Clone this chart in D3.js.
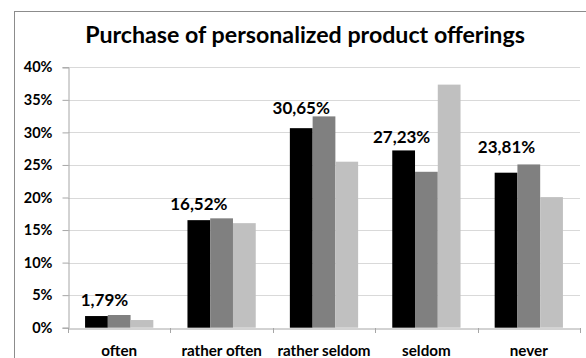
<!DOCTYPE html>
<html><head><meta charset="utf-8">
<script src="https://cdn.jsdelivr.net/npm/d3@7"></script>
<style>
html,body{margin:0;padding:0;background:#fff;}
svg{display:block;}
text{font-family:Lato,"Open Sans",sans-serif;font-weight:bold;fill:#000;}
</style></head>
<body>
<svg id="chart" width="586" height="358"></svg>
<script>
const title = "Purchase of personalized product offerings";
const categories = ["often", "rather often", "rather seldom", "seldom", "never"];
const seriesNames = ["A", "B", "C"];
const seriesA = [1.79, 16.52, 30.65, 27.23, 23.81];
const seriesB = [1.95, 16.80, 32.46, 23.95, 25.08];
const seriesC = [1.18, 16.06, 25.50, 37.34, 20.06];
const labelText = ["1,79%", "16,52%", "30,65%", "27,23%", "23,81%"];
const yTicks = [0, 5, 10, 15, 20, 25, 30, 35, 40];

(function () {
// layout (not data)
const labelLift = [10, 10, 14, 7.4, 20];
const labelShift = [8, 0, 0, -2, 0.5];
const colors = ["#000000", "#808080", "#c0c0c0"];

const svg = d3.select("#chart");
const pLeft = 68, pRight = 580, pTop = 67.3, pBottom = 327.7;

svg.append("rect").attr("x", 14.5).attr("y", 11.5).attr("width", 620).attr("height", 400)
  .attr("fill", "#fff").attr("stroke", "#8c8c8c").attr("stroke-width", 1);

svg.append("text").attr("x", 305).attr("y", 43).attr("text-anchor", "middle")
  .style("font-size", "23.2px").text(title);

const x0 = d3.scaleBand().domain(categories).range([pLeft, pRight]).paddingInner(0).paddingOuter(0);
const bw = x0.bandwidth();
const x1 = d3.scaleBand().domain(seriesNames).range([0, bw]).paddingInner(0).paddingOuter(0.75);
const y = d3.scaleLinear().domain([0, 40]).range([pBottom, pTop]);

// gridlines
svg.append("g").selectAll("line").data(yTicks.slice(1)).join("line")
  .attr("x1", pLeft).attr("x2", pRight)
  .attr("y1", d => Math.round(y(d)) + 0.5).attr("y2", d => Math.round(y(d)) + 0.5)
  .attr("stroke", "#d9d9d9").attr("stroke-width", 1);

// y axis
const yAxis = svg.append("g").attr("transform", `translate(${pLeft + 0.5},0)`)
  .call(d3.axisLeft(y).tickValues(yTicks).tickFormat(d => d + "%").tickSize(6).tickPadding(10));
yAxis.select(".domain").attr("stroke", "#a6a6a6");
yAxis.selectAll(".tick line").attr("stroke", "#a6a6a6");
yAxis.selectAll(".tick text").style("font-size", "14.5px").style("font-family", "Lato,sans-serif").attr("fill", "#1a1a1a");

const series = [seriesA, seriesB, seriesC];
const rows = categories.map((c, i) => ({cat: c, i, vals: series.map((s, k) => ({k, v: s[i]}))}));

const groups = svg.append("g").selectAll("g").data(rows).join("g")
  .attr("transform", d => `translate(${x0(d.cat)},0)`);
groups.selectAll("rect").data(d => d.vals).join("rect")
  .attr("x", d => x1(seriesNames[d.k])).attr("width", x1.bandwidth())
  .attr("y", d => y(d.v)).attr("height", d => y(0) - y(d.v))
  .attr("fill", d => colors[d.k]);

// x axis
const xAxis = svg.append("g").attr("transform", `translate(0,${Math.round(pBottom) + 0.5})`)
  .call(d3.axisBottom(x0).tickSize(0).tickPadding(17));
xAxis.select(".domain").attr("stroke", "#a6a6a6");
xAxis.selectAll(".tick text").style("font-size", "15.2px").style("font-family", "Lato,sans-serif").attr("fill", "#1a1a1a");
svg.append("g").selectAll("line").data(d3.range(categories.length + 1)).join("line")
  .attr("x1", i => Math.round(pLeft + i * bw) + 0.5).attr("x2", i => Math.round(pLeft + i * bw) + 0.5)
  .attr("y1", Math.round(pBottom)).attr("y2", Math.round(pBottom) + 5)
  .attr("stroke", "#a6a6a6");

// data labels
svg.append("g").selectAll("text").data(rows).join("text")
  .attr("x", d => x0(d.cat) + x1("A") + x1.bandwidth() / 2 + labelShift[d.i])
  .attr("y", d => y(seriesA[d.i]) - labelLift[d.i])
  .attr("text-anchor", "middle").style("font-size", "17px")
  .text(d => labelText[d.i]);
})();
</script>
</body></html>
